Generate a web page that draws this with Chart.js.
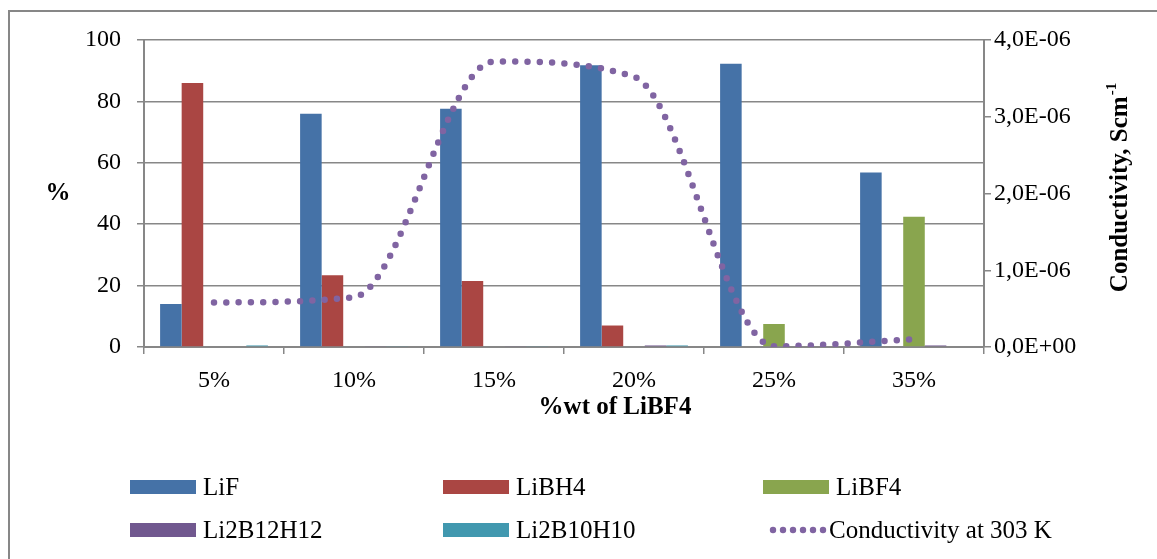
<!DOCTYPE html>
<html>
<head>
<meta charset="utf-8">
<script src="https://cdn.jsdelivr.net/npm/chart.js@4.4.1/dist/chart.umd.min.js"></script>
<style>
  html, body { margin: 0; padding: 0; background: #fff; }
  #wrap { position: relative; width: 1157px; height: 559px; }
</style>
</head>
<body>
<div id="wrap"><canvas id="chart" width="1157" height="559"></canvas></div>
<script>
// data
const categories = ["5%", "10%", "15%", "20%", "25%", "35%"];
const lif = [14, 76, 77.6, 91.8, 92.3, 56.8];
const libh4 = [86, 23.4, 21.5, 7, 0, 0];
const libf4 = [0, 0, 0, 0, 7.5, 42.4];
const li2b12h12 = [0, 0.2, 0.2, 0.5, 0, 0.5];
const li2b10h10 = [0.5, 0.2, 0.2, 0.5, 0, 0];
const conductivity = [0.58e-6, 0.65e-6, 3.72e-6, 3.52e-6, 0.01e-6, 0.1e-6];

const leftTicks = [0, 20, 40, 60, 80, 100];
const rightTicks = [0, 1e-6, 2e-6, 3e-6, 4e-6];

const FONT = "'Liberation Serif', 'DejaVu Serif', serif";
const GREY = "#878787";

function sciComma(v) {
  const [m, e] = v.toExponential(1).split("e");
  const n = parseInt(e, 10);
  const sign = n < 0 ? "-" : "+";
  return m.replace(".", ",") + "E" + sign + String(Math.abs(n)).padStart(2, "0");
}

const legendPos = [
  [130, 487], [443, 487], [763, 487],
  [130, 530], [443, 530], [763, 530],
];

const decorPlugin = {
  id: "decor",
  beforeDraw(chart) {
    const ctx = chart.ctx;
    ctx.save();
    ctx.strokeStyle = GREY;
    ctx.lineWidth = 2;
    ctx.beginPath();
    ctx.moveTo(9, 559);
    ctx.lineTo(9, 11);
    ctx.lineTo(1157, 11);
    ctx.stroke();
    ctx.restore();
  },
  afterDraw(chart) {
    const ctx = chart.ctx;
    const area = chart.chartArea;
    ctx.save();
    ctx.fillStyle = "#000";
    ctx.textAlign = "center";
    ctx.textBaseline = "middle";
    ctx.font = "bold 25px " + FONT;
    // left axis title
    ctx.fillText("%", 58, (area.top + area.bottom) / 2);
    // x axis title
    ctx.fillText("%wt of LiBF4", 615, 408);
    // right axis title, rotated, with superscript
    ctx.save();
    ctx.translate(1121, 188);
    ctx.rotate(-Math.PI / 2);
    const main = "Conductivity, Scm";
    ctx.font = "bold 25px " + FONT;
    const w1 = ctx.measureText(main).width;
    ctx.font = "bold 15px " + FONT;
    const w2 = ctx.measureText("-1").width;
    const x0 = -(w1 + w2) / 2;
    ctx.textAlign = "left";
    ctx.font = "bold 25px " + FONT;
    ctx.fillText(main, x0, 0);
    ctx.font = "bold 15px " + FONT;
    ctx.fillText("-1", x0 + w1 + 1, -9);
    ctx.restore();

    // legend in a 3 x 2 grid
    ctx.font = "25px " + FONT;
    ctx.textAlign = "left";
    chart.data.datasets.forEach((ds, i) => {
      const [x, y] = legendPos[i];
      let textX = x + 73;
      if (ds.type === "line") {
        ctx.fillStyle = ds.borderColor;
        for (let k = 0; k < 6; k++) {
          ctx.beginPath();
          ctx.arc(x + 10 + k * 10, y, 3.2, 0, Math.PI * 2);
          ctx.fill();
        }
        textX = x + 66;
      } else {
        ctx.fillStyle = ds.backgroundColor;
        ctx.fillRect(x, y - 7, 66, 14);
      }
      ctx.fillStyle = "#000";
      ctx.fillText(ds.label, textX, y + 1);
    });
    ctx.restore();
  },
};

const barBase = { type: "bar", order: 1, yAxisID: "y", categoryPercentage: 0.77, barPercentage: 1 };

new Chart(document.getElementById("chart"), {
  type: "bar",
  data: {
    labels: categories,
    datasets: [
      { ...barBase, label: "LiF", data: lif, backgroundColor: "#4572A7" },
      { ...barBase, label: "LiBH4", data: libh4, backgroundColor: "#AA4643" },
      { ...barBase, label: "LiBF4", data: libf4, backgroundColor: "#89A54E" },
      { ...barBase, label: "Li2B12H12", data: li2b12h12, backgroundColor: "#71588F" },
      { ...barBase, label: "Li2B10H10", data: li2b10h10, backgroundColor: "#4198AF" },
      {
        type: "line",
        order: 0,
        label: "Conductivity at 303 K",
        data: conductivity,
        yAxisID: "y1",
        borderColor: "#8064A2",
        borderWidth: 6.5,
        borderDash: [0, 12.3],
        borderCapStyle: "round",
        cubicInterpolationMode: "monotone",
        pointRadius: 0,
        fill: false,
      },
    ],
  },
  options: {
    responsive: false,
    animation: false,
    layout: { padding: { left: 0, top: 40, right: 0, bottom: 137 } },
    plugins: { legend: { display: false }, tooltip: { enabled: false } },
    scales: {
      x: {
        grid: { drawOnChartArea: false, color: GREY, lineWidth: 1.5, tickLength: 7 },
        border: { color: GREY, width: 2 },
        ticks: { color: "#000", font: { family: FONT, size: 24 }, padding: 12 },
        afterFit: (s) => { s.height = 75; },
      },
      y: {
        min: 0,
        max: 100,
        afterBuildTicks: (s) => { s.ticks = leftTicks.map((v) => ({ value: v })); },
        grid: { color: GREY, lineWidth: 1.5, tickLength: 7 },
        border: { color: GREY, width: 2 },
        ticks: { color: "#000", font: { family: FONT, size: 24 }, padding: 16 },
        afterFit: (s) => { s.width = 144; },
      },
      y1: {
        position: "right",
        min: 0,
        max: 4e-6,
        afterBuildTicks: (s) => { s.ticks = rightTicks.map((v) => ({ value: v })); },
        grid: { drawOnChartArea: false, color: GREY, lineWidth: 1.5, tickLength: 7 },
        border: { color: GREY, width: 2 },
        ticks: { color: "#000", font: { family: FONT, size: 24 }, padding: 3, callback: (v) => sciComma(v) },
        afterFit: (s) => { s.width = 173; },
      },
    },
  },
  plugins: [decorPlugin],
});
</script>
</body>
</html>
